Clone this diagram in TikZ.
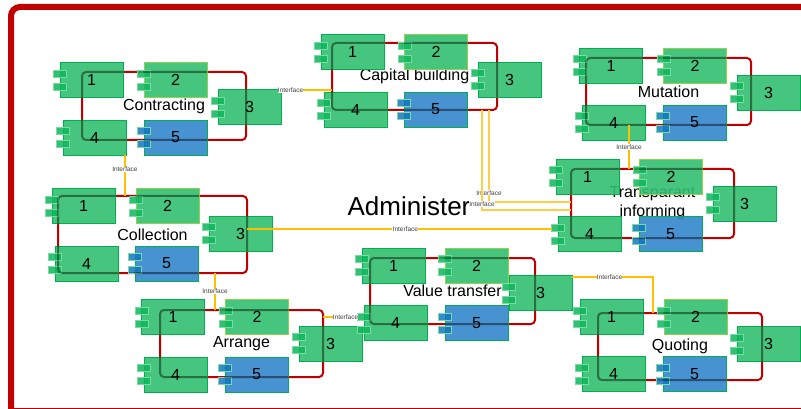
\documentclass[tikz,border=0pt]{standalone}
\usepackage{fontspec}
\setmainfont{Liberation Sans}
\definecolor{boxfill}{RGB}{50,191,112}
\definecolor{boxline}{RGB}{0,176,80}
\definecolor{lightline}{RGB}{146,208,80}
\definecolor{bluefill}{RGB}{51,136,204}
\definecolor{portfill}{RGB}{14,182,92}
\definecolor{portline}{RGB}{120,220,160}
\definecolor{blueport}{RGB}{20,118,196}
\definecolor{loopred}{RGB}{192,0,0}
\definecolor{ifacecol}{RGB}{255,192,0}
\definecolor{ifacelight}{RGB}{255,206,70}
\definecolor{labelgray}{RGB}{64,64,64}
\tikzset{
  compbox/.style={rectangle, minimum width=63pt, minimum height=35pt, inner sep=0pt,
    fill=boxfill, fill opacity=0.9, text opacity=1, draw=boxline, line width=0.8pt,
    font=\fontsize{16}{16}\selectfont},
  comptwo/.style={draw=lightline},
  compblue/.style={fill=bluefill},
  compport/.style={fill=portfill, draw=portline, line width=0.6pt, fill opacity=0.85},
  compportblue/.style={fill=blueport, draw=portline, line width=0.6pt, fill opacity=0.85},
  loopbox/.style={rectangle, draw=loopred, line width=2pt, rounded corners=4pt,
    inner sep=0pt, outer sep=0pt, font=\fontsize{16}{19}\selectfont, align=center},
  iface/.style={draw=ifacecol, line width=1.4pt},
  ifacewide/.style={draw=ifacelight, line width=1.8pt},
  ilabel/.style={font=\fontsize{6.5}{6.5}\selectfont, text=labelgray, fill=white,
    inner sep=0.3pt},
  darkline/.style={draw=black, opacity=0.35, line width=2pt, rounded corners=4pt},
}
% name, x, y, digit, box style, port style
\newcommand\mkcomp[6]{%
  \node[compbox,#5] (#1) at (#2,#3) {#4};
  \draw[#6] ([shift={(-6,-10)}]#1.west) rectangle ++(13,7);
  \draw[#6] ([shift={(-6,3)}]#1.west) rectangle ++(13,7);
}
% loop line seen through the five components of a group
\newcommand\mkgroup[1]{%
  \begin{scope}
    \clip (#11.south west) rectangle (#11.north east)
          (#12.south west) rectangle (#12.north east)
          (#13.south west) rectangle (#13.north east)
          (#14.south west) rectangle (#14.north east)
          (#15.south west) rectangle (#15.north east);
    \draw[darkline] (#1L.south west) rectangle (#1L.north east);
  \end{scope}
}
\begin{document}
\begin{tikzpicture}[x=1pt, y=-1pt]
\useasboundingbox (0,0) rectangle (801,409);
\fill[white] (0,0) rectangle (801,409);
% outer frame
\draw[loopred, line width=6pt, rounded corners=9pt] (11,409) -- (11,7) -- (812,7);
\draw[loopred, line width=1pt] (8,408) -- (801,408);

% loops with group names
\node[loopbox, minimum width=164pt, minimum height=68pt] (AL) at (164,106) {Contracting};
\node[loopbox, minimum width=165pt, minimum height=67pt] (BL) at (414.5,76.5) {Capital building};
\node[loopbox, minimum width=165pt, minimum height=67pt] (CL) at (668.5,91.5) {Mutation};
\node[loopbox, minimum width=163pt, minimum height=69pt] (DL) at (652.5,203.5) {Transparant\\informing};
\node[loopbox, minimum width=189pt, minimum height=77pt] (EL) at (152.5,234.5) {Collection};
\node[loopbox, minimum width=163pt, minimum height=67pt] (FL) at (241.5,343.5) {Arrange};
\node[loopbox, minimum width=165pt, minimum height=66pt] (GL) at (452.5,291) {Value transfer};
\node[loopbox, minimum width=164pt, minimum height=67pt] (HL) at (680,346.5) {Quoting};

\node[font=\fontsize{26}{26}\selectfont, anchor=base, inner sep=0pt] (adm) at (409,215) {Administer};

% components
\mkcomp{A1}{91.5}{80}{1}{}{compport}
\mkcomp{A2}{175.5}{80}{2}{comptwo}{compport}
\mkcomp{A3}{249.5}{107}{3}{}{compport}
\mkcomp{A4}{94.5}{137.5}{4}{}{compport}
\mkcomp{A5}{175.5}{137.5}{5}{compblue}{compportblue}

\mkcomp{B1}{352.5}{52}{1}{}{compport}
\mkcomp{B2}{436}{52}{2}{comptwo}{compport}
\mkcomp{B3}{509.5}{79.5}{3}{}{compport}
\mkcomp{B4}{355.5}{109.5}{4}{}{compport}
\mkcomp{B5}{435.5}{109.5}{5}{compblue}{compportblue}

\mkcomp{C1}{611}{65.5}{1}{}{compport}
\mkcomp{C2}{695}{65.5}{2}{comptwo}{compport}
\mkcomp{C3}{768.5}{92.5}{3}{}{compport}
\mkcomp{C4}{613.5}{122.5}{4}{}{compport}
\mkcomp{C5}{694.5}{122.5}{5}{compblue}{compportblue}

\mkcomp{D1}{587.5}{176.5}{1}{}{compport}
\mkcomp{D2}{671}{176.5}{2}{comptwo}{compport}
\mkcomp{D3}{744.5}{203.5}{3}{}{compport}
\mkcomp{D4}{589.5}{234}{4}{}{compport}
\mkcomp{D5}{670.5}{234}{5}{compblue}{compportblue}

\mkcomp{E1}{83.5}{206}{1}{}{compport}
\mkcomp{E2}{167.5}{206}{2}{comptwo}{compport}
\mkcomp{E3}{240.5}{233.5}{3}{}{compport}
\mkcomp{E4}{86.5}{263.5}{4}{}{compport}
\mkcomp{E5}{166.5}{263.5}{5}{compblue}{compportblue}

\mkcomp{F1}{173}{317}{1}{}{compport}
\mkcomp{F2}{257}{317}{2}{comptwo}{compport}
\mkcomp{F3}{330.5}{343.5}{3}{}{compport}
\mkcomp{F4}{175.5}{374.5}{4}{}{compport}
\mkcomp{F5}{256.5}{374.5}{5}{compblue}{compportblue}

\mkcomp{G1}{393.5}{265.5}{1}{}{compport}
\mkcomp{G2}{476.5}{265.5}{2}{comptwo}{compport}
\mkcomp{G3}{540.5}{293}{3}{}{compport}
\mkcomp{G4}{395.5}{323}{4}{}{compport}
\mkcomp{G5}{476.5}{323}{5}{compblue}{compportblue}

\mkcomp{H1}{611.5}{317}{1}{}{compport}
\mkcomp{H2}{695.5}{317}{2}{comptwo}{compport}
\mkcomp{H3}{768.5}{344}{3}{}{compport}
\mkcomp{H4}{613.5}{374}{4}{}{compport}
\mkcomp{H5}{694.5}{374}{5}{compblue}{compportblue}

% loop lines seen through the components
\mkgroup{A}\mkgroup{B}\mkgroup{C}\mkgroup{D}
\mkgroup{E}\mkgroup{F}\mkgroup{G}\mkgroup{H}

% interface connectors
\draw[iface] ([yshift=-1pt]A3.north east) -- ([yshift=-1pt]A3.north east -| BL.west)
  node[ilabel, pos=0.18] (i1) {Interface};
\draw[iface] ([xshift=-1.5pt]A4.south east) -- ([xshift=-1.5pt]A4.south east |- EL.north)
  node[ilabel, pos=0.35] (i2) {Interface};
\draw[iface] ([xshift=-26.5pt]FL.north) -- ([xshift=-26.5pt]FL.north |- EL.south)
  node[ilabel, midway] (i3) {Interface};
\coordinate (g4in) at ([shift={(-6,-6)}]G4.west);
\draw[iface] (FL.east |- g4in) -- (g4in) node[ilabel, pos=0.65] (i4) {Interface};
\coordinate (d4in) at ([shift={(-6,-5)}]D4.west);
\draw[iface] (EL.east |- d4in) -- (d4in) node[ilabel, pos=0.52] (i5) {Interface};
\draw[ifacewide] ([xshift=74.5pt]BL.south) |- ([shift={(0,-1.5)}]DL.west)
  node[ilabel, pos=0.45] (i6) {Interface};
\draw[ifacewide] ([xshift=67.5pt]BL.south) |- ([shift={(0,6.5)}]DL.west)
  node[ilabel, pos=0.47] (i7) {Interface};
\draw[iface] ([xshift=-39.5pt]CL.south) -- ([xshift=-39.5pt]CL.south |- DL.north)
  node[ilabel, midway] (i8) {Interface};
\draw[iface] ([shift={(0,2)}]G3.north east) -| ([xshift=-27pt]HL.north)
  node[ilabel, pos=0.23] (i9) {Interface};
\end{tikzpicture}
\end{document}
